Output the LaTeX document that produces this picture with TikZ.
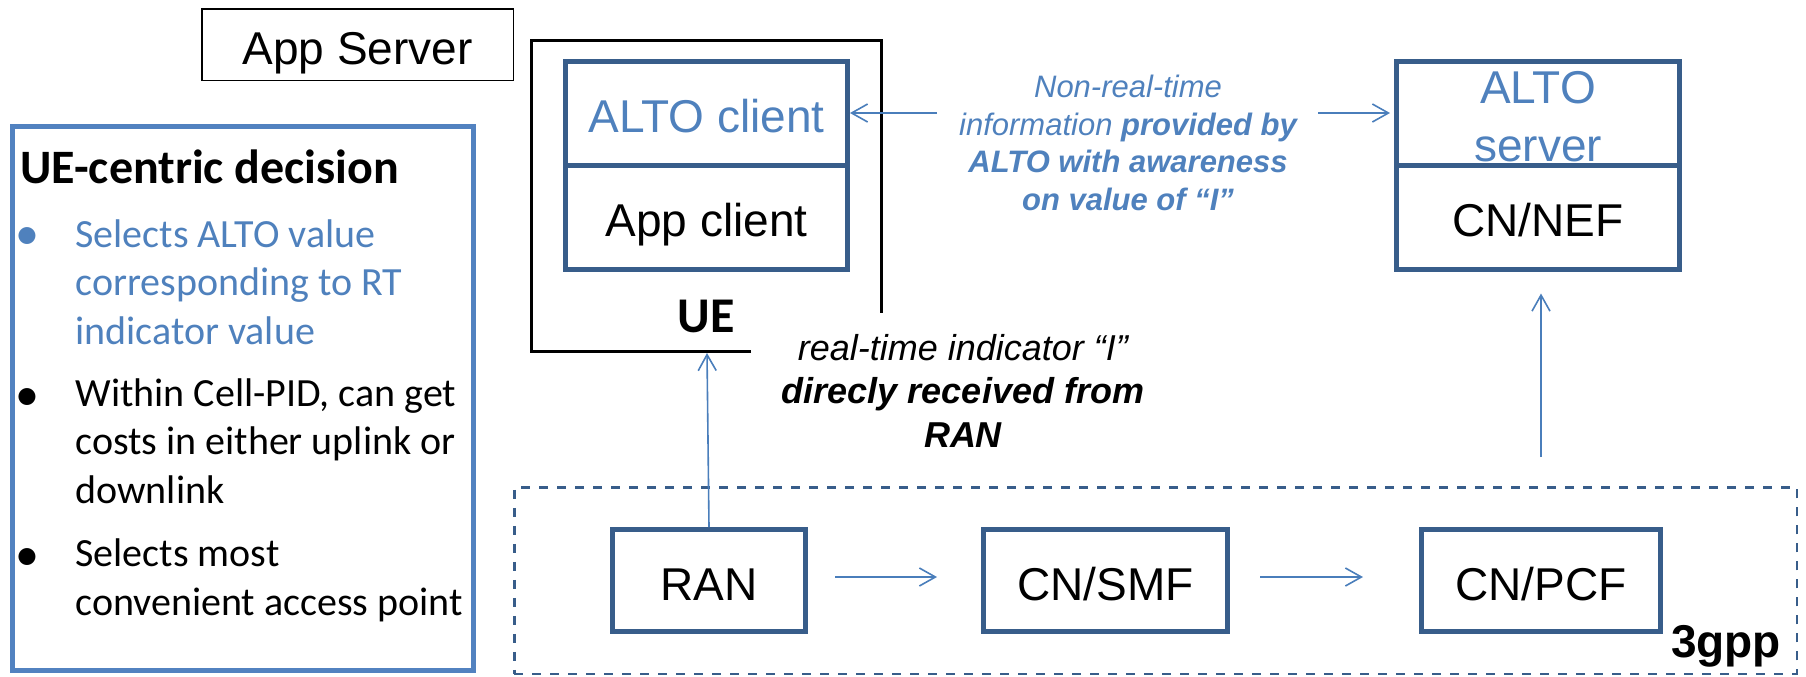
\documentclass[tikz,border=0pt]{standalone}
\usepackage{fontspec}
\setmainfont{Liberation Sans}
\newfontfamily\calibri{Carlito}
\usetikzlibrary{positioning, arrows.meta}
\definecolor{boxblue}{HTML}{385D8A}
\definecolor{txtblue}{HTML}{4F81BD}
\definecolor{lnkblue}{HTML}{4A7EBB}
\definecolor{sideblue}{HTML}{5282C0}

\begin{document}
\begin{tikzpicture}[x=0.5pt, y=-0.5pt,
	blk/.style={draw=boxblue, line width=2.5pt, inner sep=0pt, font=\fontsize{23}{29}\selectfont},
	oneline/.style={text height=19.5pt, text depth=0pt},
	flow/.style={draw=lnkblue, line width=0.8pt, -{Straight Barb[length=8pt,width=9pt]}},
	item/.style={anchor=base west, align=left, inner sep=0pt, font=\calibri\fontsize{20}{24.25}\selectfont},
	dotitem/.style={anchor=base, inner sep=0pt, font=\calibri\fontsize{24}{28}\selectfont}]
	\useasboundingbox (0,0) rectangle (1806,676);
	% decision box on the left
	\node[draw=sideblue, line width=2.5pt, minimum width=230.5pt, minimum height=272pt] (side) at (243,398.5) {};
	\node[anchor=base west, inner sep=0pt, font=\calibri\bfseries\fontsize{24}{29}\selectfont] (title) at (20,183) {UE-centric decision};
	\node[dotitem, text=txtblue] (d1) at (27,249) {\textbullet};
	\node[item, text=txtblue] (i1) at (75,344) {Selects ALTO value\\corresponding to RT\\indicator value};
	\node[dotitem] (d2) at (27,410) {\textbullet};
	\node[item] (i2) at (75,503) {Within Cell-PID, can get\\costs in either uplink or\\downlink};
	\node[dotitem] (d3) at (27,570) {\textbullet};
	\node[item] (i3) at (75,615) {Selects most\\convenient access point};
	\node[draw, oneline, line width=0.75pt, minimum width=155.75pt, minimum height=35.75pt, font=\fontsize{23}{28}\selectfont] (app) at (357.5,44.5) {App Server};

	% UE
	\draw[line width=1.5pt] (751,351.5) -- (531.5,351.5) -- (531.5,40.5) -- (881.5,40.5) -- (881.5,313);
	\node[blk, oneline, text=txtblue, minimum width=141pt, minimum height=52pt] (altoc) at (706.5,113) {ALTO client};
	\node[blk, oneline, minimum width=141pt, minimum height=52pt] (appc) at (706.5,217) {App client};
	\node[anchor=base, font=\calibri\bfseries\fontsize{25}{30}\selectfont] (ue) at (706,332) {UE};
	\coordinate (uefoot) at (707,353);

	% ALTO server
	\node[blk, align=center, text=txtblue, text height=48.8pt, text depth=0pt, minimum width=141.5pt, minimum height=52pt] (altos) at (1538,113) {ALTO\\server};
	\node[blk, oneline, minimum width=141.5pt, minimum height=52pt] (nef) at (1538,217) {CN/NEF};
	\node[align=center, text=txtblue, font=\itshape\fontsize{15.5}{18.75}\selectfont] (nrt) at (1128,143) {Non-real-time\\information \textbf{provided by}\\\textbf{ALTO with awareness}\\\textbf{on value of “I”}};
	\coordinate (nrtL) at (937,113);
	\coordinate (nrtR) at (1318,113);
	\node[anchor=base, align=center, font=\itshape\fontsize{18}{21.75}\selectfont] (rt) at (963,447) {real-time indicator “I”\\\textbf{direcly received from}\\\textbf{RAN}};

	% 3gpp domain
	\node[draw=boxblue, line width=1.25pt, dash pattern=on 4.5pt off 4.5pt, minimum width=641.25pt, minimum height=93.25pt] (tgpp) at (1155.5,580.5) {};
	\node[blk, oneline, minimum width=96.5pt, minimum height=51pt] (ran) at (709,580.5) {RAN};
	\node[blk, oneline, minimum width=122pt, minimum height=51pt] (smf) at (1105.5,580.5) {CN/SMF};
	\node[blk, oneline, minimum width=119.5pt, minimum height=51pt] (pcf) at (1541,580.5) {CN/PCF};
	\node[anchor=base, font=\bfseries\fontsize{23}{28}\selectfont] (gpplbl) at (1726,657) {3gpp};

	\draw[flow] (nrtL) -- (altoc.east);
	\draw[flow, shorten >=2pt] (nrtR) -- (altos.west);
	\draw[flow] (ran.north) -- (uefoot);
	\draw[flow, shorten <=13.5pt, shorten >=22pt] ([yshift=1.75pt]ran.east) -- ([yshift=1.75pt]smf.west);
	\draw[flow, shorten <=15pt, shorten >=28pt] ([yshift=1.75pt]smf.east) -- ([yshift=1.75pt]pcf.west);
	\draw[flow, shorten <=35pt, shorten >=11pt] (pcf.north) -- (pcf.north |- nef.south);
\end{tikzpicture}
\end{document}
